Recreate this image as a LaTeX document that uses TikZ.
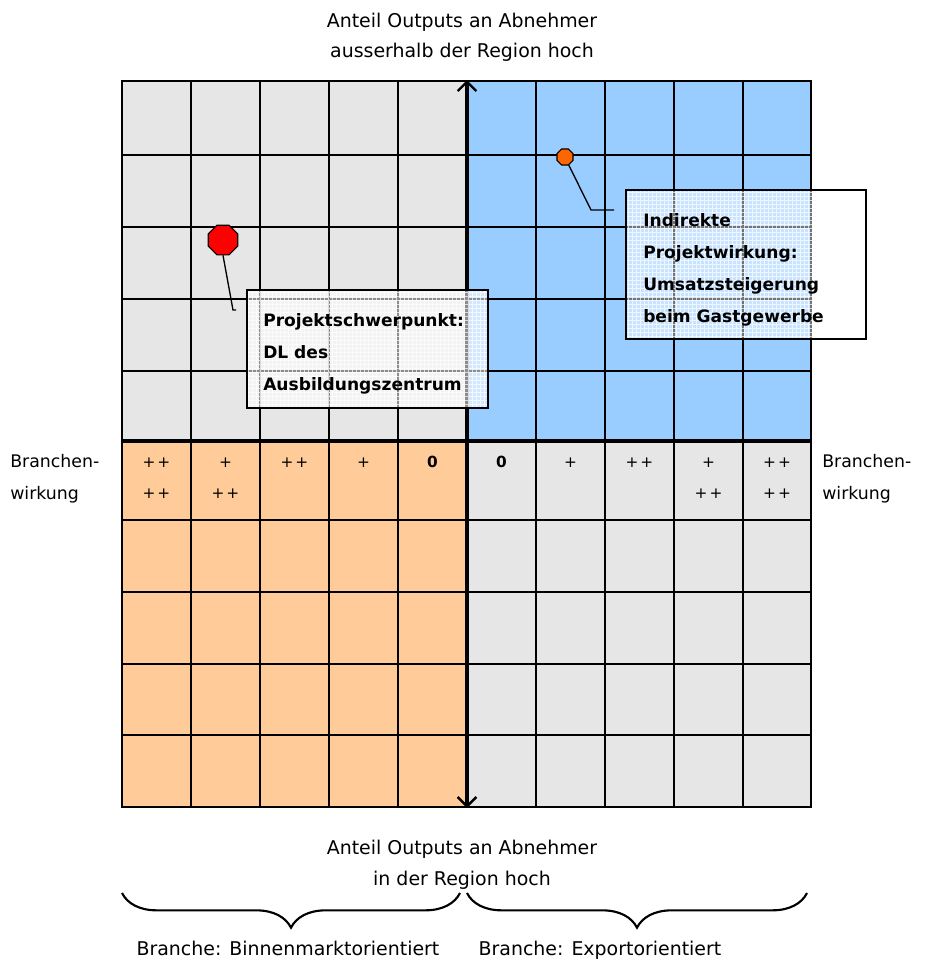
\documentclass[tikz,border=0pt]{standalone}
\usepackage{fontspec}
\setmainfont{DejaVu Sans}
\usetikzlibrary{shapes.geometric,arrows.meta,decorations.pathreplacing}
\definecolor{cgray}{HTML}{E6E6E6}
\definecolor{cblue}{HTML}{99CCFF}
\definecolor{corange}{HTML}{FFCC99}
\definecolor{cred}{HTML}{FF0000}
\definecolor{cdorange}{HTML}{FF6600}
\begin{document}
\begin{tikzpicture}[x=0.75pt,y=-0.75pt,
  lbl/.style={font=\fontsize{14.2}{16}\selectfont, inner sep=0pt, anchor=base},
  sidelbl/.style={font=\fontsize{13}{16}\selectfont, inner sep=0pt, anchor=base west},
  cell/.style={font=\fontsize{11.5}{12}\selectfont, inner sep=0pt},
  cellb/.style={font=\bfseries\fontsize{11.5}{12}\selectfont, inner sep=0pt},
  gridline/.style={line width=1.1pt},
  axisline/.style={line width=2.3pt},
  callbox/.style={draw, line width=0.9pt, inner sep=0pt},
  boxtext/.style={font=\bfseries\fontsize{12.8}{24}\selectfont, align=left, inner sep=0pt, anchor=west},
  pin/.style={regular polygon, regular polygon sides=8, draw, line width=0.8pt, inner sep=0pt},
  leader/.style={line width=1pt},
  tipA/.style={},
  bracestyle/.style={decorate, decoration={brace, amplitude=26pt}, line width=1.6pt}
]
\useasboundingbox (0,0) rectangle (925,965);
\fill[white] (0,0) rectangle (925,965);

% quadrant fills
\fill[cgray] (122,81) rectangle (467,441);
\fill[cblue] (467,81) rectangle (811,441);
\fill[corange] (122,441) rectangle (467,807);
\fill[cgray] (467,441) rectangle (811,807);

% grid lines
\foreach \x in {191,260,329,398,536,605,674,743}
  \draw[gridline] (\x,81) -- (\x,807);
\foreach \y in {155,227,299,371,520,592,664,735}
  \draw[gridline] (122,\y) -- (811,\y);
\draw[line width=1.5pt] (122,81) rectangle (811,807);

% axes
\coordinate (axN) at (467,80);
\coordinate (axS) at (467,808);
\coordinate (axW) at (122,441);
\coordinate (axE) at (811,441);
\draw[axisline] (axW) -- (axE);
\draw[axisline, {Straight Barb[length=7pt,width=14pt,line width=1.8pt]}-{Straight Barb[length=7pt,width=14pt,line width=1.8pt]}] (axS) -- (axN);

% cell entries
\node[cell] (c0a) at (156.5,463) {+\kern1.5pt+};
\node[cell] (c0b) at (156.5,494) {+\kern1.5pt+};
\node[cell] (c1a) at (225.5,463) {+};
\node[cell] (c1b) at (225.5,494) {+\kern1.5pt+};
\node[cell] (c2a) at (294.5,463) {+\kern1.5pt+};
\node[cell] (c3a) at (363.5,463) {+};
\node[cellb] (c4a) at (432.5,462) {0};
\node[cellb] (c5a) at (501.5,462) {0};
\node[cell] (c6a) at (570.5,463) {+};
\node[cell] (c7a) at (639.5,463) {+\kern1.5pt+};
\node[cell] (c8a) at (708.5,463) {+};
\node[cell] (c8b) at (708.5,494) {+\kern1.5pt+};
\node[cell] (c9a) at (777,463) {+\kern1.5pt+};
\node[cell] (c9b) at (777,494) {+\kern1.5pt+};

% callout box 1
\begin{scope}
  \fill[white, opacity=0.55] (247,290) rectangle (488,408);
  \clip (247,290) rectangle (488,408);
  \draw[white, line width=0.5pt, opacity=0.7, step=3pt] (240,280) grid (495,415);
\end{scope}
\node[callbox, minimum width=180.75pt, minimum height=88.5pt] (box1) at (367.5,349) {};
\node[boxtext] (t1) at (263,354) {Projektschwerpunkt:\\DL des\\Ausbildungszentrum};

% callout box 2
\begin{scope}
  \fill[white, opacity=0.45] (626,190) rectangle (866,339);
  \clip (626,190) rectangle (866,339);
  \draw[white, line width=0.5pt, opacity=0.7, step=3pt] (620,185) grid (870,345);
\end{scope}
\node[callbox, minimum width=180pt, minimum height=111.75pt] (box2) at (746,264.5) {};
\node[boxtext] (t2) at (643,270) {Indirekte\\Projektwirkung:\\Umsatzsteigerung\\beim Gastgewerbe};

% pins and leaders
\node[pin, fill=cred, minimum size=24pt] (p1) at (223,240) {};
\coordinate (l1a) at (233,310);
\coordinate (l1b) at (236,310);
\draw[leader] (p1.south) -- (l1a) -- (l1b);

\node[pin, fill=cdorange, minimum size=13pt] (p2) at (565,157) {};
\coordinate (l2a) at (591,210);
\coordinate (l2b) at (614,210);
\draw[leader] (p2.-65) -- (l2a) -- (l2b);

% labels
\node[lbl] (top1) at (462,27) {Anteil Outputs an Abnehmer};
\node[lbl] (top2) at (462,57) {ausserhalb der Region hoch};
\node[lbl] (bot1) at (462,854) {Anteil Outputs an Abnehmer};
\node[lbl] (bot2) at (462,885) {in der Region hoch};
\node[sidelbl] (lw1) at (10,467) {Branchen-};
\node[sidelbl] (lw2) at (10,499) {wirkung};
\node[sidelbl] (rw1) at (822,467) {Branchen-};
\node[sidelbl] (rw2) at (822,499) {wirkung};

% braces
\coordinate (b1r) at (460,893);
\coordinate (b1l) at (122,893);
\coordinate (b2r) at (807,893);
\coordinate (b2l) at (467,893);
\draw[bracestyle] (b1r) -- (b1l);
\draw[bracestyle] (b2r) -- (b2l);
\node[lbl] (br1) at (288,955) {Branche: Binnenmarktorientiert};
\node[lbl] (br2) at (600,955) {Branche: Exportorientiert};
\end{tikzpicture}
\end{document}
